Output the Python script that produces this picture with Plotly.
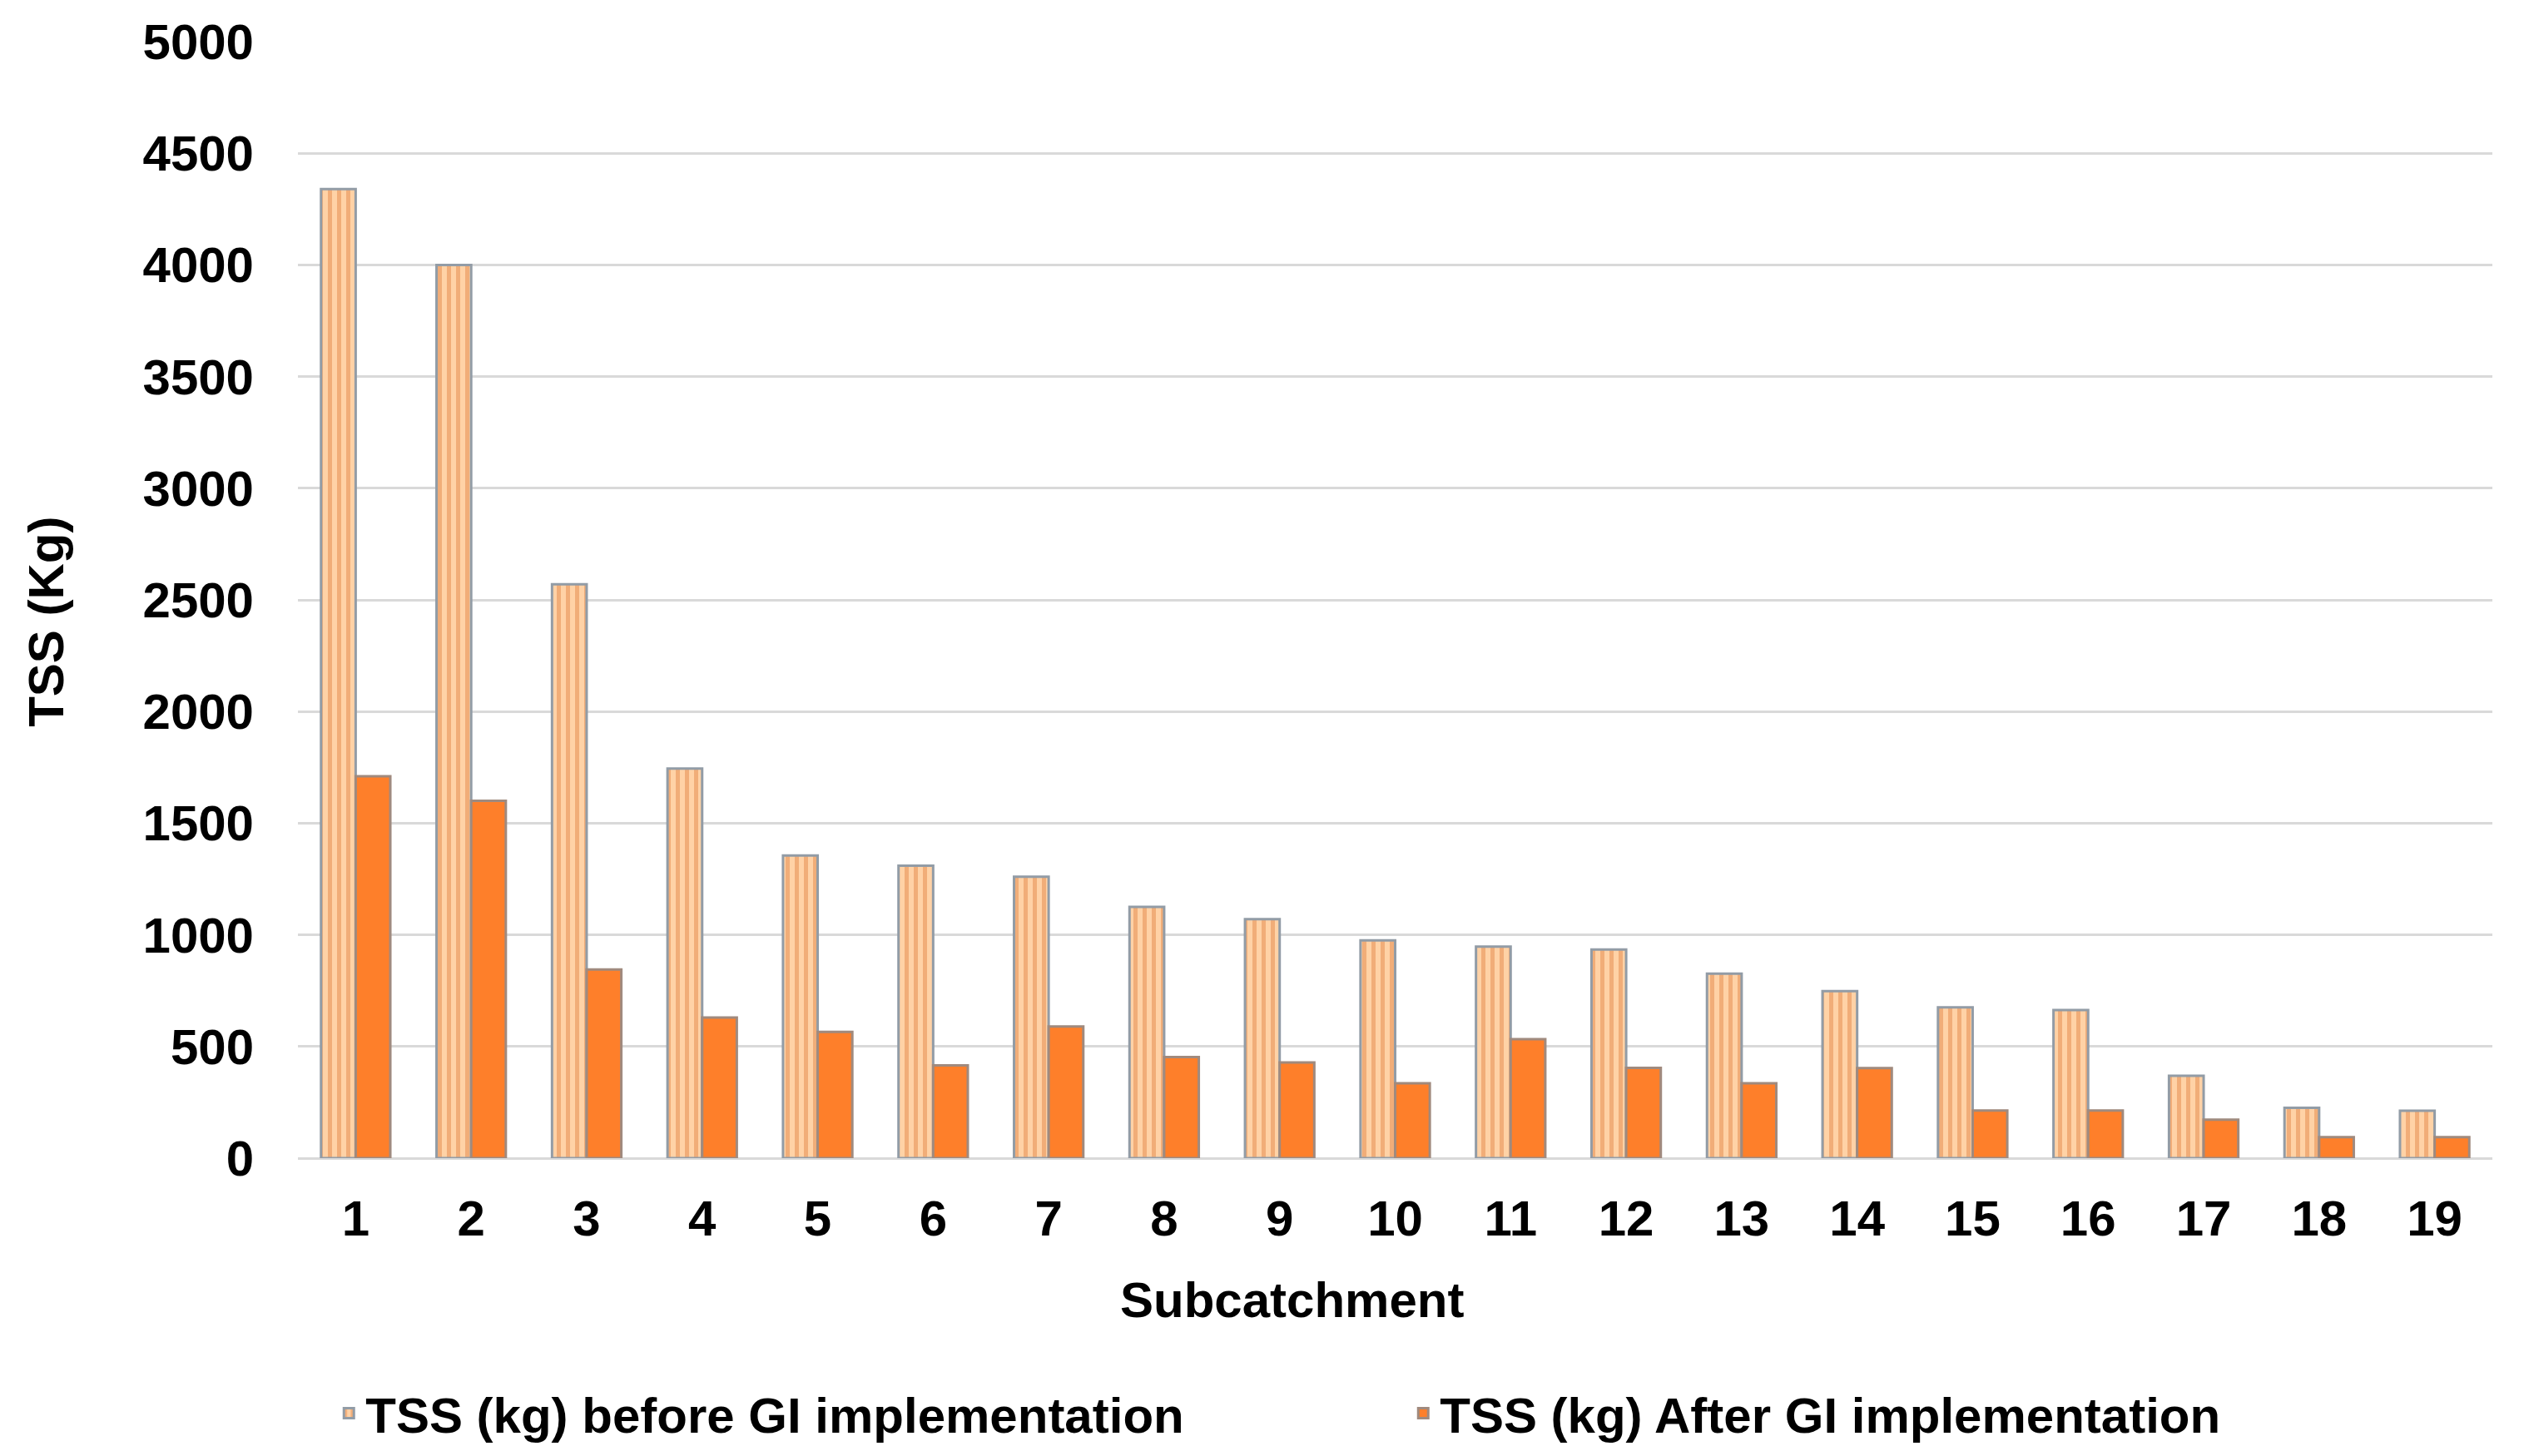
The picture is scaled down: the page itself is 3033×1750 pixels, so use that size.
import plotly.graph_objects as go

categories = [str(i) for i in range(1, 20)]
tss_before = [4340, 4000, 2570, 1745, 1355, 1310, 1260, 1125, 1070, 975,
              947, 934, 826, 748, 675, 663, 369, 225, 212]
tss_after = [1710, 1600, 845, 630, 565, 415, 590, 453, 428, 335,
             533, 404, 335, 403, 213, 213, 172, 94, 94]
y_ticks = [0, 500, 1000, 1500, 2000, 2500, 3000, 3500, 4000, 4500, 5000]

FONT = "Liberation Sans"
FS = 60

fig = go.Figure()
fig.add_trace(go.Bar(
    x=categories, y=tss_before,
    name="<b>TSS (kg) before GI implementation</b>",
    marker=dict(
        color="#FFCC99",
        pattern=dict(shape="|", fgcolor="#E3874A", bgcolor="#FFD2A6",
                     size=11, solidity=0.45, fillmode="overlay"),
        line=dict(color="#929CA6", width=3),
    ),
))
fig.add_trace(go.Bar(
    x=categories, y=tss_after,
    name="<b>TSS (kg) After GI implementation</b>",
    marker=dict(color="#FE7F2A", line=dict(color="#A08A7E", width=3)),
))

fig.update_layout(
    width=3033, height=1750,
    margin=dict(l=350, r=46, t=42, b=366, autoexpand=False),
    paper_bgcolor="white", plot_bgcolor="white",
    barmode="group", bargap=0.4, bargroupgap=0,
    font=dict(family=FONT, size=FS, color="black"),
    showlegend=True,
    legend=dict(
        orientation="h",
        xref="container", yref="container",
        x=0.129, xanchor="left", y=0.034, yanchor="middle",
        font=dict(family=FONT, size=FS, color="black"),
        entrywidth=1246, entrywidthmode="pixels",
        itemclick=False, itemdoubleclick=False,
    ),
    annotations=[
        dict(text="<b>Subcatchment</b>", xref="paper", yref="paper",
             x=0.453, y=0, xanchor="center", yanchor="middle", yshift=-170,
             showarrow=False, font=dict(family=FONT, size=FS, color="black")),
        dict(text="<b>TSS (Kg)</b>", xref="paper", yref="paper",
             x=0, y=0.48, xanchor="center", yanchor="middle", xshift=-302,
             textangle=-90,
             showarrow=False, font=dict(family=FONT, size=FS, color="black")),
    ],
)
fig.update_xaxes(
    type="category",
    showline=False, ticks="", showgrid=False,
    tickfont=dict(family=FONT, size=FS, color="black", weight="bold"),
    ticklabelstandoff=32,
)
fig.update_yaxes(
    range=[0, 5000], tickvals=y_ticks, ticktext=[str(v) for v in y_ticks],
    showgrid=True, gridcolor="#D9D9D9", gridwidth=3,
    zeroline=True, zerolinecolor="#D9D9D9", zerolinewidth=3,
    showline=False, ticks="",
    tickfont=dict(family=FONT, size=FS, color="black", weight="bold"),
    ticklabelstandoff=52,
)

fig.write_html("out.html")
